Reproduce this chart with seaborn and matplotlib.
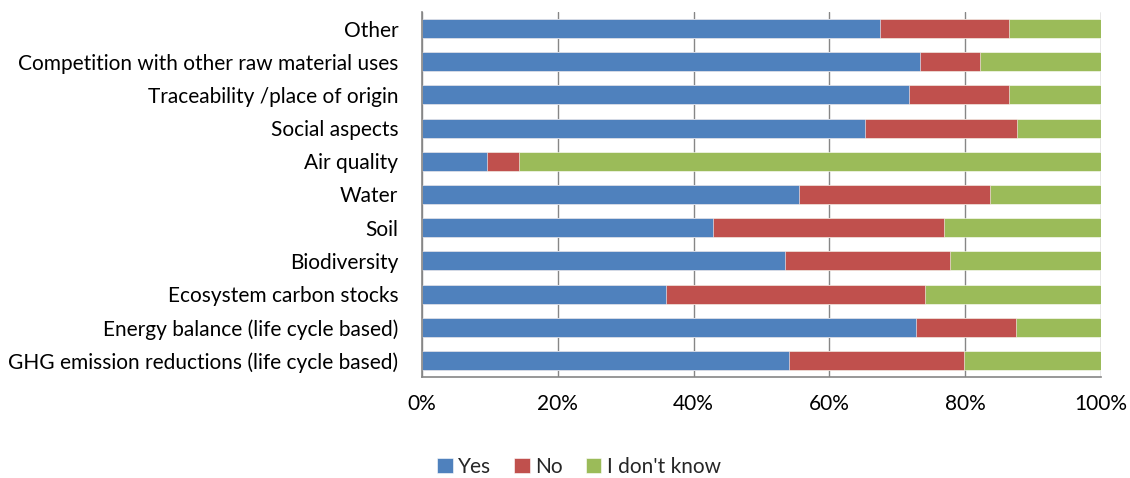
import matplotlib
matplotlib.use("Agg")
import matplotlib.pyplot as plt
import seaborn as sns
import pandas as pd
import numpy as np

categories = [
    "Other",
    "Competition with other raw material uses",
    "Traceability /place of origin",
    "Social aspects",
    "Air quality",
    "Water",
    "Soil",
    "Biodiversity",
    "Ecosystem carbon stocks",
    "Energy balance (life cycle based)",
    "GHG emission reductions (life cycle based)",
]
yes = [67.4, 73.4, 71.7, 65.2, 9.5, 55.5, 42.8, 53.4, 35.9, 72.7, 54.0]
no = [19.1, 8.8, 14.7, 22.5, 4.8, 28.2, 34.1, 24.4, 38.2, 14.8, 25.8]
dont_know = [13.5, 17.8, 13.6, 12.3, 85.7, 16.3, 23.1, 22.2, 25.9, 12.5, 20.2]
series_names = ["Yes", "No", "I don't know"]
colors = ["#4F81BD", "#C0504D", "#9BBB59"]
xticks = [0, 20, 40, 60, 80, 100]

sns.set_theme(style="white")
plt.rcParams["font.family"] = ["Lato", "DejaVu Sans"]
FS = 15

df = pd.DataFrame({"category": categories, "yes": yes, "no": no, "dk": dont_know})
df["c1"] = df["yes"]
df["c2"] = df["yes"] + df["no"]
df["c3"] = df["yes"] + df["no"] + df["dk"]

fig = plt.figure(figsize=(11.3, 4.78), dpi=100)
ax = fig.add_axes([422 / 1130, 1 - 377 / 478, (1101 - 422) / 1130, (377 - 12) / 478])

# Stacked bars: draw the cumulative totals from the longest to the shortest
for col, name, color in zip(["c3", "c2", "c1"], series_names[::-1], colors[::-1]):
    sns.barplot(data=df, x=col, y="category", order=categories, color=color,
                width=0.57, ax=ax, label=name, saturation=1, orient="h",
                edgecolor="white", linewidth=0.4)

ax.set_xlim(0, 100)
ax.set_ylim(len(categories) - 0.5, -0.5)
ax.set_xticks(xticks)
ax.set_xticklabels([f"{t}%" for t in xticks], fontsize=FS, color="black")
ax.set_xlabel("")
ax.set_ylabel("")
ax.tick_params(axis="y", labelsize=FS, labelcolor="black", length=0, pad=17)
ax.tick_params(axis="x", length=5, color="#868686", width=1, direction="out", pad=7)

# Category boundary tick marks on the left axis
ax.set_yticks(np.arange(-0.5, len(categories), 1), minor=True)
ax.tick_params(axis="y", which="minor", length=5, color="#868686", width=1, direction="out")

ax.grid(axis="x", color="#868686", linewidth=1)
ax.set_axisbelow(True)
for side in ["top", "right"]:
    ax.spines[side].set_visible(False)
for side in ["left", "bottom"]:
    ax.spines[side].set_color("#868686")
    ax.spines[side].set_linewidth(1.2)

handles, labels = ax.get_legend_handles_labels()
order = [labels.index(n) for n in series_names]
leg = fig.legend([handles[i] for i in order], series_names, loc="center",
                 bbox_to_anchor=(579 / 1130, 1 - 467 / 478), ncol=3, frameon=False,
                 fontsize=FS, handlelength=0.75, handleheight=0.75, handletextpad=0.25,
                 columnspacing=1.1)
if ax.get_legend() is not None:
    ax.get_legend().remove()

fig.savefig("out.png", dpi=100)
